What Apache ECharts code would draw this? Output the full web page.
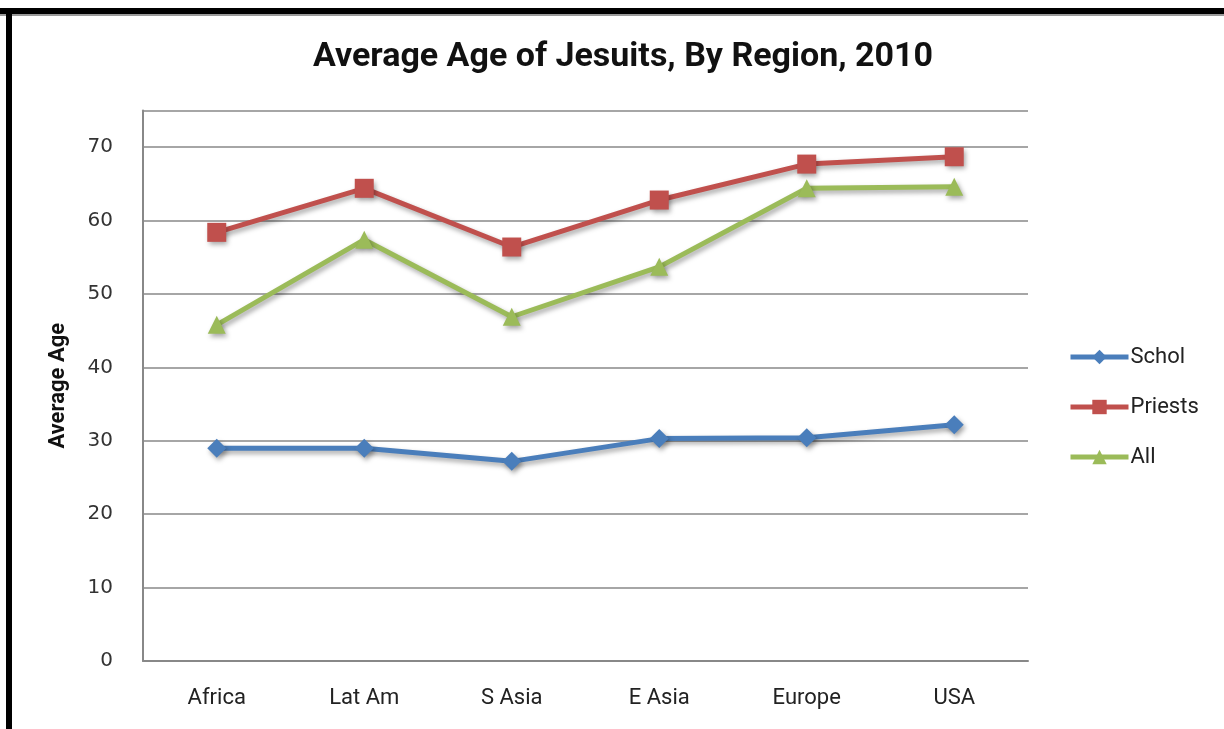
<!DOCTYPE html>
<html>
<head>
<meta charset="utf-8">
<script src="https://cdn.jsdelivr.net/npm/echarts@6/dist/echarts.min.js"></script>
<style>
html,body{margin:0;padding:0;background:#fff;}
#c{width:1224px;height:729px;}
</style>
</head>
<body>
<div id="c"></div>
<script>
const categories = ['Africa', 'Lat Am', 'S Asia', 'E Asia', 'Europe', 'USA'];
const schol = [29.0, 29.0, 27.2, 30.3, 30.4, 32.2];
const priests = [58.4, 64.4, 56.4, 62.8, 67.7, 68.7];
const allJesuits = [45.8, 57.4, 46.9, 53.7, 64.4, 64.6];
const yTicks = [0, 10, 20, 30, 40, 50, 60, 70];

const FONT = 'Roboto, sans-serif';
const chart = echarts.init(document.getElementById('c'), null, {renderer: 'canvas'});

function lineSeries(name, data, color, symbol, size) {
  return {
    name: name, type: 'line', data: data,
    symbol: symbol, symbolSize: size, showSymbol: true,
    lineStyle: {color: color, width: 5, shadowColor: 'rgba(0,0,0,0.35)', shadowBlur: 5, shadowOffsetY: 3, shadowOffsetX: 2},
    itemStyle: {color: color, shadowColor: 'rgba(0,0,0,0.35)', shadowBlur: 5, shadowOffsetY: 3, shadowOffsetX: 2},
    emphasis: {disabled: true},
    animation: false
  };
}

chart.setOption({
  animation: false,
  backgroundColor: '#fff',
  title: {
    text: 'Average Age of Jesuits, By Region, 2010',
    left: 618, top: 35, textAlign: 'center',
    textStyle: {fontFamily: FONT, fontWeight: 'bold', fontSize: 34, color: '#111'}
  },
  graphic: [
    {type: 'rect', shape: {x: 0, y: 8, width: 1224, height: 6}, style: {fill: '#000'}, z: 100},
    {type: 'rect', shape: {x: 0, y: 14, width: 1224, height: 2}, style: {fill: '#999'}, z: 100},
    {type: 'rect', shape: {x: 6, y: 8, width: 6, height: 721}, style: {fill: '#000'}, z: 100}
  ],
  legend: {
    orient: 'vertical', left: 1063, top: 341,
    itemWidth: 58, itemHeight: 18, itemGap: 28,
    textStyle: {fontFamily: FONT, fontSize: 22, color: '#222', padding: [0, 0, 0, -3]},
    lineStyle: {width: 5, shadowBlur: 0, shadowOffsetX: 0, shadowOffsetY: 0},
    itemStyle: {shadowBlur: 0, shadowOffsetX: 0, shadowOffsetY: 0},
    data: ['Schol', 'Priests', 'All']
  },
  grid: {left: 143, right: 196, top: 110.5, bottom: 68, containLabel: false},
  xAxis: {
    type: 'category', data: categories, boundaryGap: true,
    axisLine: {lineStyle: {color: '#888', width: 2}},
    axisTick: {show: false},
    axisLabel: {fontFamily: FONT, fontSize: 22, color: '#222', margin: 26}
  },
  yAxis: {
    type: 'value', min: 0, max: 75, interval: 10,
    name: 'Average Age', nameLocation: 'middle', nameGap: 74, nameRotate: 90,
    nameTextStyle: {fontFamily: FONT, fontWeight: 'bold', fontSize: 22, color: '#111'},
    axisLine: {show: true, lineStyle: {color: '#888', width: 2}},
    axisTick: {show: false},
    axisLabel: {fontFamily: 'DejaVu Sans, sans-serif', fontSize: 20, color: '#333', margin: 30,
      formatter: function (v) { return yTicks.indexOf(v) >= 0 ? String(v) : ''; }},
    splitLine: {lineStyle: {color: '#888', width: 1.5}}
  },
  series: [
    lineSeries('Schol', schol, '#4A7EBB', 'diamond', 19),
    lineSeries('Priests', priests, '#C0504D', 'rect', 19),
    lineSeries('All', allJesuits, '#9BBB59', 'triangle', 18)
  ]
});
</script>
</body>
</html>
